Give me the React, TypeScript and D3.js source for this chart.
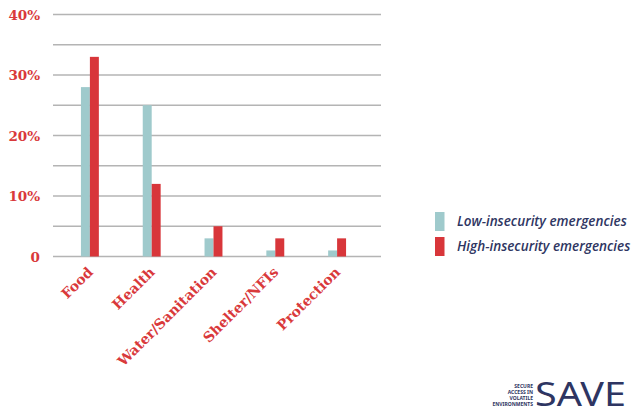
import React, { useEffect, useRef } from 'react';
import * as d3 from 'd3';

const categories = ['Food', 'Health', 'Water/Sanitation', 'Shelter/NFIs', 'Protection'];
const seriesNames = ['Low-insecurity emergencies', 'High-insecurity emergencies'];
const lowValues = [28, 25, 3, 1, 1];
const highValues = [33, 12, 5, 3, 3];
const tickValues = [0, 10, 20, 30, 40];
const gridValues = [0, 5, 10, 15, 20, 25, 30, 35, 40];
const logoLines = ['SECURE', 'ACCESS IN', 'VOLATILE', 'ENVIRONMENTS'];

const colors = ['#9fcacc', '#d8363a'];
const red = '#d9393b';
const navy = '#2e3562';

const App = () => {
  const svgRef = useRef(null);

  useEffect(() => {
    const svg = d3.select(svgRef.current);
    svg.selectAll('*').remove();

    const y = d3.scaleLinear().domain([0, 40]).range([256.5, 14.5]);
    const x = d3
      .scaleBand()
      .domain(categories)
      .range([59, 368])
      .paddingInner(0.71)
      .paddingOuter(0.355);
    const xSub = d3.scaleBand().domain(seriesNames).range([0, x.bandwidth()]);

    // grid lines
    svg
      .append('g')
      .selectAll('line')
      .data(gridValues)
      .join('line')
      .attr('x1', 53)
      .attr('x2', 381)
      .attr('y1', (d) => y(d))
      .attr('y2', (d) => y(d))
      .attr('stroke', '#b4b4b4')
      .attr('stroke-width', 1.5);

    // y tick labels
    svg
      .append('g')
      .selectAll('text')
      .data(tickValues)
      .join('text')
      .attr('x', 40)
      .attr('y', (d) => y(d) + 5)
      .attr('text-anchor', 'end')
      .attr('fill', red)
      .style('font-family', '"DejaVu Serif", serif')
      .style('font-weight', 'bold')
      .style('font-size', '13.5px')
      .text((d) => (d === 0 ? '0' : d + '%'));

    // bars
    const rows = categories.map((c, i) => ({ c, vals: [lowValues[i], highValues[i]] }));
    svg
      .append('g')
      .selectAll('g')
      .data(rows)
      .join('g')
      .attr('transform', (d) => `translate(${x(d.c)},0)`)
      .selectAll('rect')
      .data((d) => d.vals.map((v, j) => ({ v, s: seriesNames[j], j })))
      .join('rect')
      .attr('x', (d) => xSub(d.s))
      .attr('width', xSub.bandwidth())
      .attr('y', (d) => y(d.v))
      .attr('height', (d) => y(0) - y(d.v))
      .attr('fill', (d) => colors[d.j]);

    // category labels
    svg
      .append('g')
      .selectAll('text')
      .data(categories)
      .join('text')
      .attr(
        'transform',
        (d) => `translate(${(x(d) as number) + x.bandwidth() / 2 + 4},${273}) rotate(-45)`
      )
      .attr('text-anchor', 'end')
      .attr('fill', red)
      .style('font-family', '"DejaVu Serif", serif')
      .style('font-weight', 'bold')
      .style('font-size', '14px')
      .text((d) => d);

    // legend
    const legend = svg
      .append('g')
      .selectAll('g')
      .data(seriesNames)
      .join('g')
      .attr('transform', (d, i) => `translate(435,${212 + i * 25})`);
    legend
      .append('rect')
      .attr('width', 9.5)
      .attr('height', 19)
      .attr('fill', (d, i) => colors[i]);
    legend
      .append('text')
      .attr('x', 22)
      .attr('y', 14)
      .attr('fill', navy)
      .style('font-family', '"Open Sans", sans-serif')
      .style('font-style', 'italic')
      .style('font-weight', 600)
      .style('font-size', '13.5px')
      .text((d) => d);

    // logo
    const logo = svg.append('g');
    logo
      .append('text')
      .attr('x', 535)
      .attr('y', 406)
      .attr('fill', navy)
      .attr('textLength', 91)
      .attr('lengthAdjust', 'spacingAndGlyphs')
      .style('font-family', '"Noto Sans", sans-serif')
      .style('font-size', '32px')
      .text('SAVE');
    logo
      .selectAll('text.small')
      .data(logoLines)
      .join('text')
      .attr('class', 'small')
      .attr('x', 533)
      .attr('y', (d, i) => 387.5 + i * 6)
      .attr('text-anchor', 'end')
      .attr('fill', navy)
      .style('font-family', '"Noto Sans", sans-serif')
      .style('font-weight', 'bold')
      .style('font-size', '5px')
      .text((d) => d);
  }, []);

  return (
    <div style={{ position: 'absolute', left: 0, top: 0 }}>
      <svg ref={svgRef} width={640} height={412} style={{ display: 'block', background: '#fff' }}></svg>
    </div>
  );
};

export default App;
